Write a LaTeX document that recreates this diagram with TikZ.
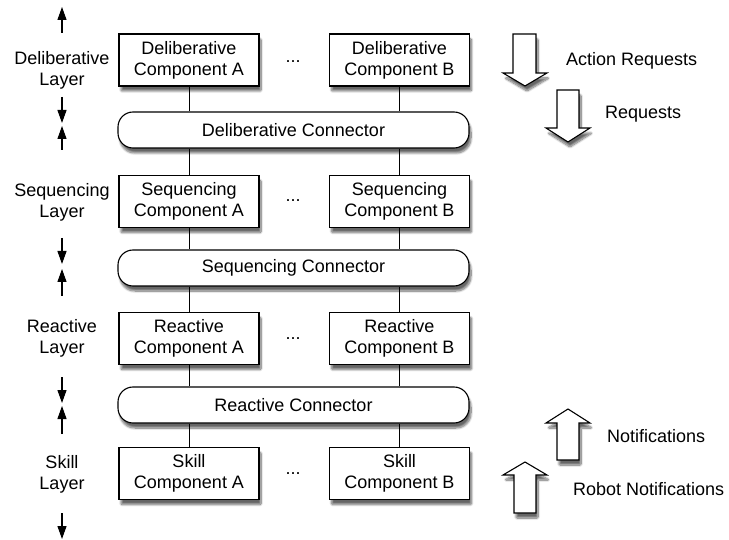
\documentclass[tikz,border=0pt]{standalone}
\usepackage{fontspec}
\setmainfont{Liberation Sans}
\usetikzlibrary{arrows.meta,shadows.blur}
\tikzset{
  shad/.style={blur shadow={shadow xshift=2pt,shadow yshift=-5pt,shadow blur steps=10,shadow blur extra rounding=1pt,shadow opacity=60}},
  comp/.style={draw,fill=white,line width=1.1pt,minimum width=140pt,minimum height=52pt,inner sep=0pt,align=center,font=\fontsize{18}{21}\selectfont,shad},
  conn/.style={draw,fill=white,line width=1.1pt,rounded corners=15pt,minimum width=351pt,minimum height=36pt,inner sep=0pt,font=\fontsize{18}{21}\selectfont,shad},
  lbl/.style={align=center,font=\fontsize{18}{21}\selectfont,inner sep=0pt},
  wire/.style={line width=0.9pt},
  tick/.style={line width=1.1pt,-{Triangle[length=13pt,width=9pt]}},
  blk/.style={draw,fill=white,line width=1.1pt,line join=miter,shad}
}
\begin{document}
\begin{tikzpicture}[x=1pt,y=-1pt]
\useasboundingbox (0,0) rectangle (729,540);
% components
\node[comp] (dA) at (189,60) {Deliberative\\Component A};
\node[comp] (dB) at (399.5,60) {Deliberative\\Component B};
\node[conn] (dC) at (293.5,130) {Deliberative Connector};
\node[comp] (sA) at (189,201.5) {Sequencing\\Component A};
\node[comp] (sB) at (399.5,201.5) {Sequencing\\Component B};
\node[conn] (sC) at (293.5,268) {Sequencing Connector};
\node[comp] (rA) at (189,338.5) {Reactive\\Component A};
\node[comp] (rB) at (399.5,338.5) {Reactive\\Component B};
\node[conn] (rC) at (293.5,405) {Reactive Connector};
\node[comp] (kA) at (189,473.5) {Skill\\Component A};
\node[comp] (kB) at (399.5,473.5) {Skill\\Component B};
% dots
\node[lbl] (d1) at (293,62) {...};
\node[lbl] (d2) at (293,201) {...};
\node[lbl] (d3) at (293,339) {...};
\node[lbl] (d4) at (293,474) {...};
% wires
\foreach \a/\c/\b in {dA/dC/sA,dB/dC/sB,sA/sC/rA,sB/sC/rB,rA/rC/kA,rB/rC/kB}{
  \draw[wire] (\a.south) -- (\a.south |- \c.north);
  \draw[wire] (\b.north |- \c.south) -- (\b.north);
}
% layer labels
\node[lbl] (lD) at (62,70) {Deliberative\\Layer};
\node[lbl] (lS) at (62,202) {Sequencing\\Layer};
\node[lbl] (lR) at (62,338) {Reactive\\Layer};
\node[lbl] (lK) at (62,474) {Skill\\Layer};
% left arrows
\coordinate (t0a) at (62,33); \coordinate (t0b) at (62,7);
\draw[tick] (t0a) -- (t0b);
\coordinate (t1a) at (62,97); \coordinate (t1b) at (62,123);
\draw[tick] (t1a) -- (t1b);
\coordinate (t2a) at (62,150); \coordinate (t2b) at (62,126);
\draw[tick] (t2a) -- (t2b);
\coordinate (t3a) at (62,238); \coordinate (t3b) at (62,264);
\draw[tick] (t3a) -- (t3b);
\coordinate (t4a) at (62,296); \coordinate (t4b) at (62,269);
\draw[tick] (t4a) -- (t4b);
\coordinate (t5a) at (62,377); \coordinate (t5b) at (62,403);
\draw[tick] (t5a) -- (t5b);
\coordinate (t6a) at (62,434); \coordinate (t6b) at (62,406);
\draw[tick] (t6a) -- (t6b);
\coordinate (t7a) at (62,513); \coordinate (t7b) at (62,539);
\draw[tick] (t7a) -- (t7b);
% block arrows
\path[blk] (513,34) -- (536,34) -- (536,73) -- (547,73) -- (525,86) -- (503,73) -- (513,73) -- cycle;
\path[blk] (557,90) -- (579,90) -- (579,128) -- (590,128) -- (568,142) -- (546,128) -- (557,128) -- cycle;
\path[blk] (557,460) -- (579,460) -- (579,423) -- (590,423) -- (568,409) -- (546,423) -- (557,423) -- cycle;
\path[blk] (514,513) -- (536,513) -- (536,475) -- (547,475) -- (525,462) -- (503,475) -- (514,475) -- cycle;
% right labels
\node[lbl,anchor=west] (tAR) at (566,61) {Action Requests};
\node[lbl,anchor=west] (tR) at (605,114) {Requests};
\node[lbl,anchor=west] (tN) at (607,436) {Notifications};
\node[lbl,anchor=west] (tRN) at (573,489) {Robot Notifications};
\end{tikzpicture}
\end{document}
